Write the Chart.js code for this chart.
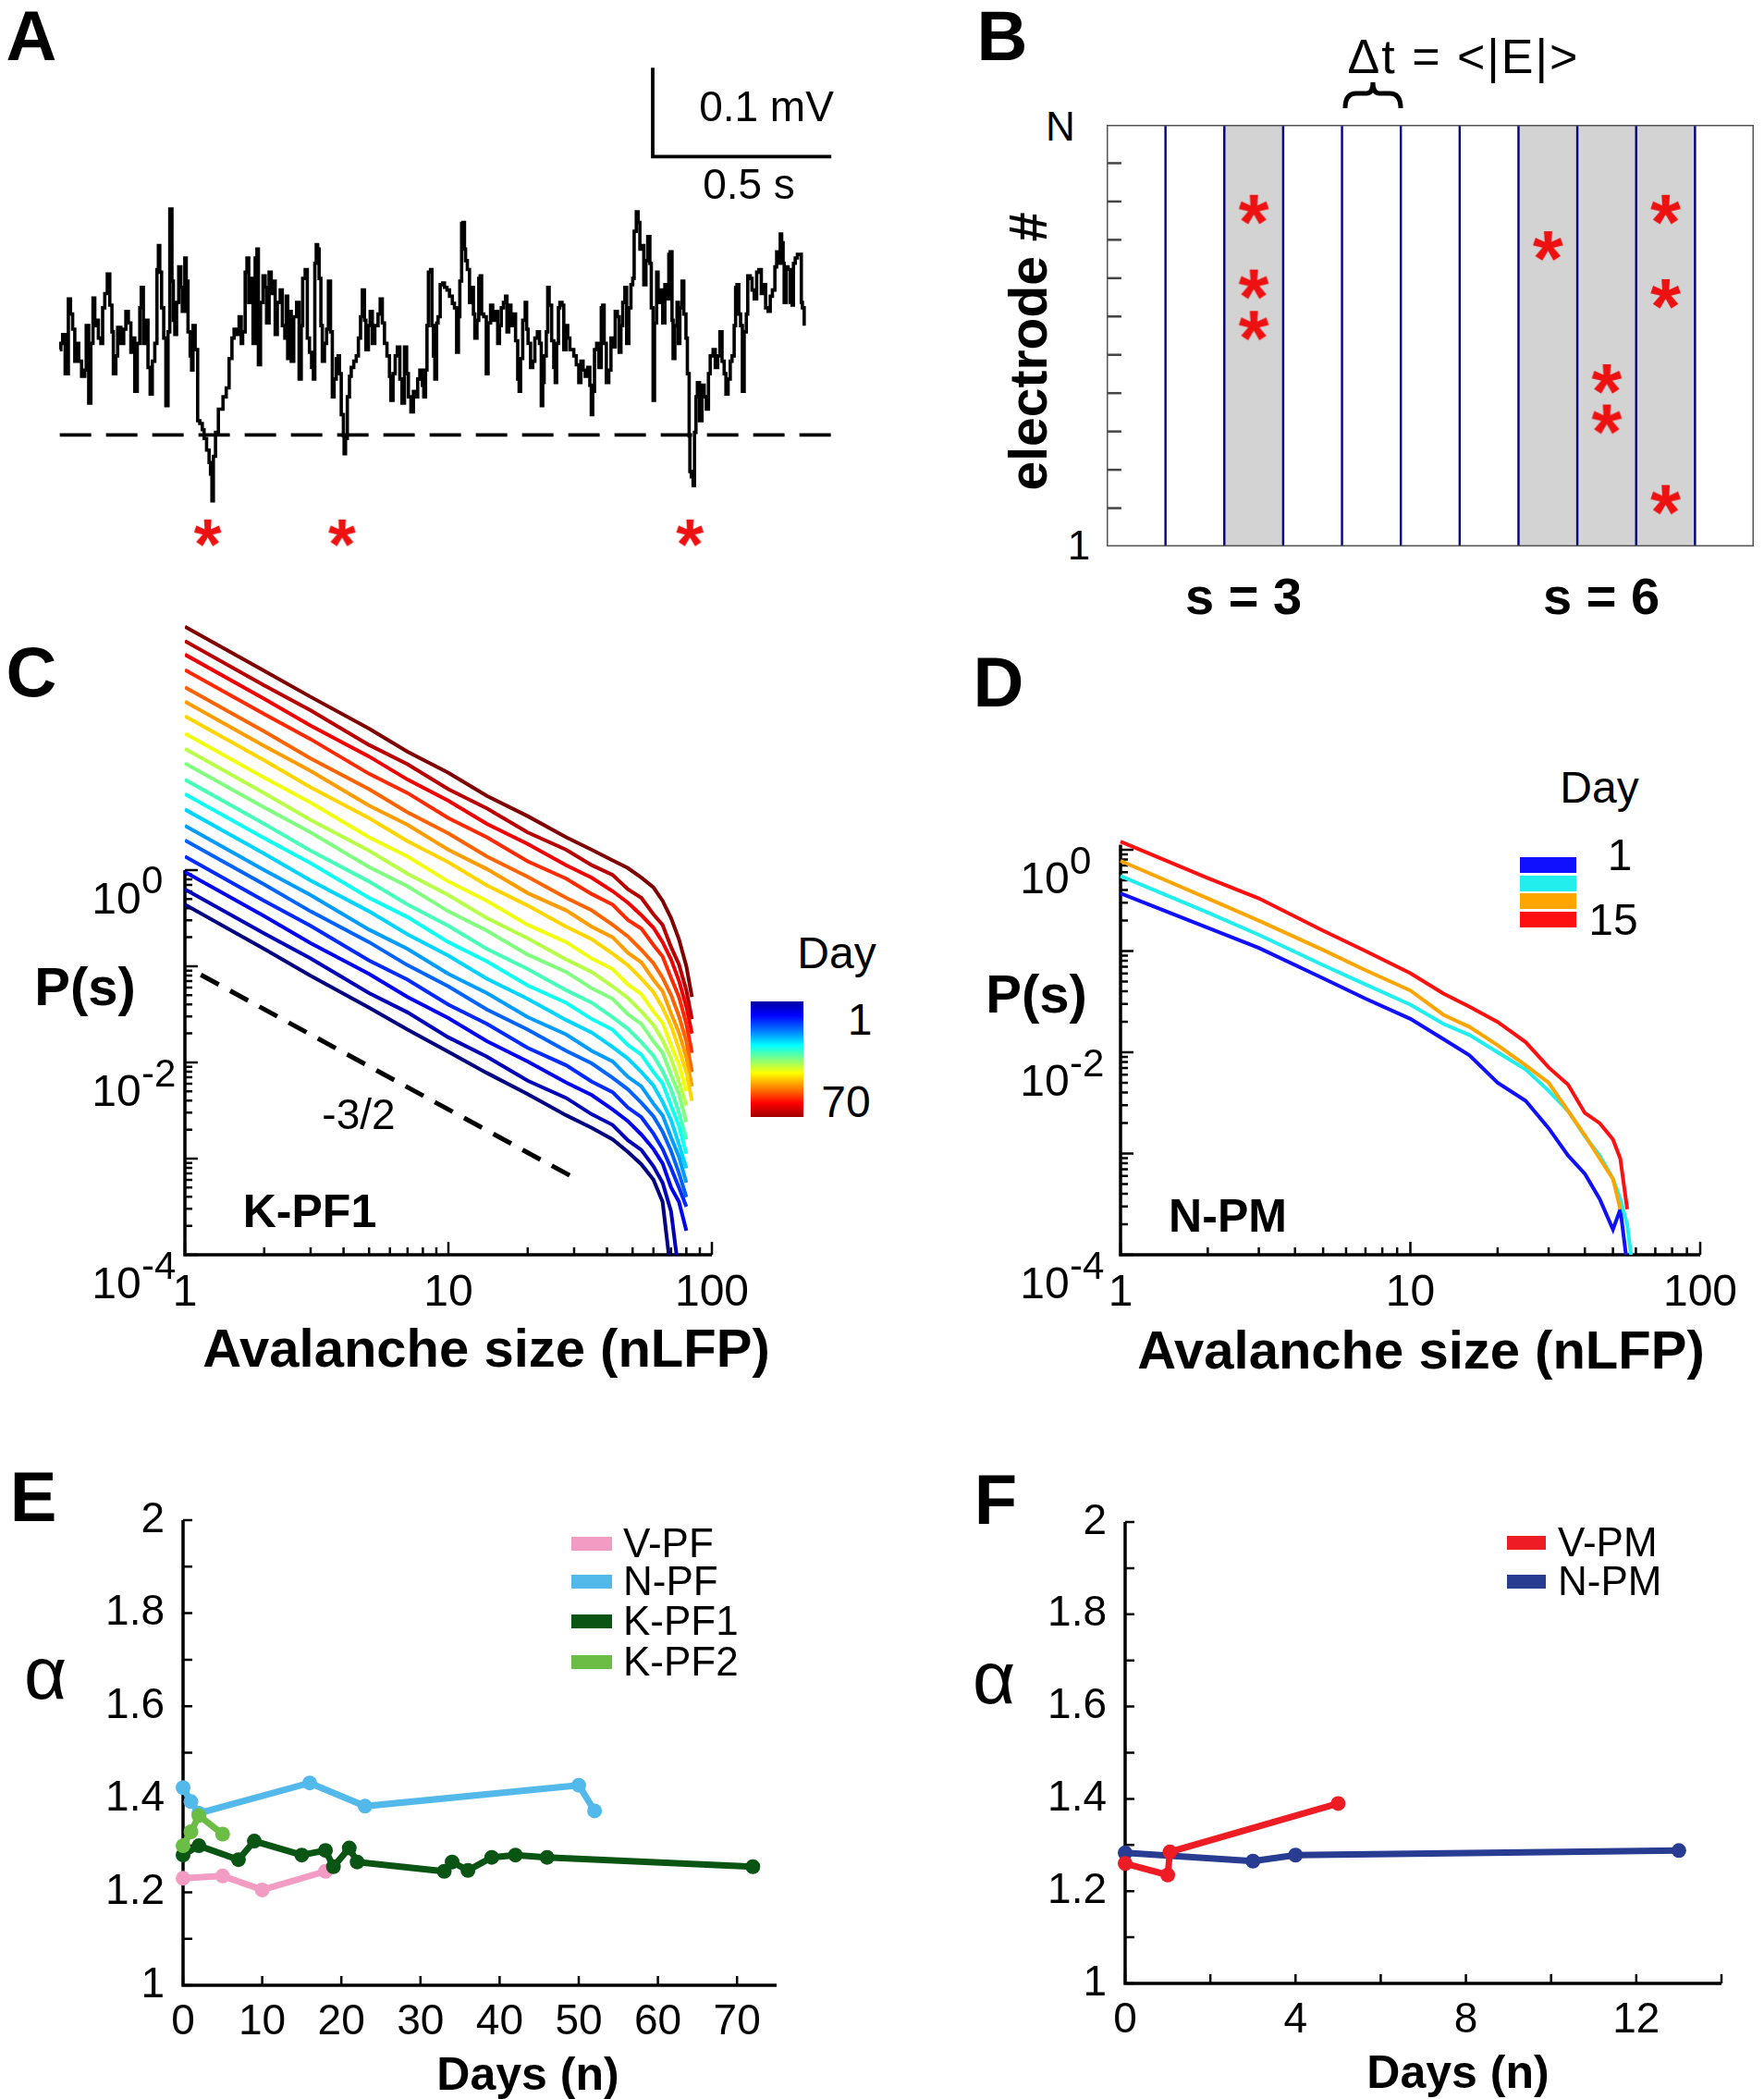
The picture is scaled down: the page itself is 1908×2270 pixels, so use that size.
<!DOCTYPE html>
<html>
<head>
<meta charset="utf-8">
<title>Neuronal avalanches across days</title>
<script src="https://cdn.jsdelivr.net/npm/chart.js@4.4.1/dist/chart.umd.min.js"></script>
<style>
  html, body { margin: 0; padding: 0; background: #fff; }
  #page { position: relative; width: 1908px; height: 2270px; overflow: hidden; font-family: "Liberation Sans", Arial, Helvetica, sans-serif; color: #000; }
  canvas { position: absolute; }
  .t { position: absolute; line-height: 1; white-space: nowrap; transform: translate(-50%, -50%); }
  .tl { position: absolute; line-height: 1; white-space: nowrap; transform: translate(0, -50%); }
  .b { font-weight: bold; }
  .patch { position: absolute; }
</style>
</head>
<body>
<div id="page">
  <canvas id="chartA" width="900" height="580" style="left:40px;top:40px"></canvas>
  <canvas id="chartB" width="722" height="478" style="left:1186px;top:124px"></canvas>
  <canvas id="chartC" width="720" height="780" style="left:90px;top:640px"></canvas>
  <canvas id="chartD" width="780" height="540" style="left:1100px;top:880px"></canvas>
  <canvas id="chartE" width="780" height="610" style="left:100px;top:1610px"></canvas>
  <canvas id="chartF" width="790" height="610" style="left:1110px;top:1610px"></canvas>

  <!-- panel letters -->
  <div class="t b" style="left:34px;top:39px;font-size:76px">A</div>
  <div class="t b" style="left:1084px;top:39px;font-size:76px">B</div>
  <div class="t b" style="left:34px;top:727px;font-size:76px">C</div>
  <div class="t b" style="left:1080px;top:738px;font-size:76px">D</div>
  <div class="t b" style="left:36px;top:1619px;font-size:76px">E</div>
  <div class="t b" style="left:1077px;top:1622px;font-size:76px">F</div>

  <!-- A -->
  <div class="t" style="left:829px;top:115px;font-size:46px">0.1 mV</div>
  <div class="t" style="left:810px;top:199px;font-size:46px">0.5 s</div>

  <!-- B -->
  <div class="t" style="left:1583px;top:61px;font-size:52px;letter-spacing:2px">&Delta;t = &lt;|E|&gt;</div>
  <svg style="position:absolute;left:1452px;top:86px" width="66" height="34" viewBox="0 0 66 34">
    <path d="M3 31 Q3 15 15 15 L26 15 Q33 15 33 3 Q33 15 40 15 L51 15 Q63 15 63 31" fill="none" stroke="#000" stroke-width="5"/>
  </svg>
  <div class="t" style="left:1147px;top:137px;font-size:44px">N</div>
  <div class="t" style="left:1167px;top:590px;font-size:44px">1</div>
  <div class="t b" style="left:1112px;top:380px;font-size:57px;transform:translate(-50%,-50%) rotate(-90deg)">electrode #</div>
  <div class="t b" style="left:1345px;top:645px;font-size:56px">s = 3</div>
  <div class="t b" style="left:1732px;top:645px;font-size:56px">s = 6</div>

  <!-- C -->
  <div class="t b" style="left:92px;top:1067px;font-size:58px">P(s)</div>
  <div class="t b" style="left:526px;top:1458px;font-size:58px">Avalanche size (nLFP)</div>
  <div class="t b" style="left:335px;top:1310px;font-size:50px">K-PF1</div>
  <div class="t" style="left:388px;top:1205px;font-size:46px">-3/2</div>
  <div class="patch" style="left:812px;top:1083px;width:57px;height:125px;background:linear-gradient(to bottom,#0000a0 0%,#0000ff 12%,#0080ff 26%,#00ffff 38%,#80ff80 50%,#ffff00 62%,#ff8000 75%,#ff0000 88%,#a00000 100%)"></div>
  <div class="t" style="left:905px;top:1031px;font-size:48px">Day</div>
  <div class="t" style="left:930px;top:1103px;font-size:48px">1</div>
  <div class="t" style="left:915px;top:1192px;font-size:48px">70</div>

  <!-- D -->
  <div class="t b" style="left:1121px;top:1075px;font-size:58px">P(s)</div>
  <div class="t b" style="left:1537px;top:1460px;font-size:58px">Avalanche size (nLFP)</div>
  <div class="t b" style="left:1328px;top:1315px;font-size:50px">N-PM</div>
  <div class="t" style="left:1730px;top:852px;font-size:48px">Day</div>
  <div class="patch" style="left:1644px;top:927px;width:61px;height:17px;background:#1010ff"></div>
  <div class="patch" style="left:1644px;top:947px;width:61px;height:17px;background:#22eeee"></div>
  <div class="patch" style="left:1644px;top:966px;width:61px;height:17px;background:#ffa500"></div>
  <div class="patch" style="left:1644px;top:986px;width:61px;height:17px;background:#ff1010"></div>
  <div class="t" style="left:1752px;top:925px;font-size:48px">1</div>
  <div class="t" style="left:1745px;top:995px;font-size:48px">15</div>

  <!-- E -->
  <div class="t" style="left:49px;top:1810px;font-size:80px">&alpha;</div>
  <div class="t b" style="left:571px;top:2243px;font-size:50px">Days (n)</div>
  <div class="patch" style="left:618px;top:1662px;width:44px;height:15px;background:#f29cc3"></div>
  <div class="patch" style="left:618px;top:1703px;width:44px;height:15px;background:#52b9ea"></div>
  <div class="patch" style="left:618px;top:1746px;width:44px;height:15px;background:#0a5514"></div>
  <div class="patch" style="left:618px;top:1790px;width:44px;height:15px;background:#6bbd45"></div>
  <div class="tl" style="left:674px;top:1669px;font-size:44px">V-PF</div>
  <div class="tl" style="left:674px;top:1710px;font-size:44px">N-PF</div>
  <div class="tl" style="left:674px;top:1753px;font-size:44px">K-PF1</div>
  <div class="tl" style="left:674px;top:1797px;font-size:44px">K-PF2</div>

  <!-- F -->
  <div class="t" style="left:1075px;top:1815px;font-size:80px">&alpha;</div>
  <div class="t b" style="left:1577px;top:2241px;font-size:50px">Days (n)</div>
  <div class="patch" style="left:1630px;top:1661px;width:42px;height:15px;background:#ee1c24"></div>
  <div class="patch" style="left:1630px;top:1703px;width:42px;height:15px;background:#283c91"></div>
  <div class="tl" style="left:1685px;top:1668px;font-size:44px">V-PM</div>
  <div class="tl" style="left:1685px;top:1710px;font-size:44px">N-PM</div>
</div>

<script>
// ---------- A: LFP trace (time in ms, voltage in microvolts) ----------
const TRACE_MS = [
  0,3,8,15,24,30,36,42,47,53,61,70,74,81,87,93,98,104,108,115,120,126,133,140,146,150,157,162,171,179,
  185,192,199,205,210,217,224,228,234,238,247,253,259,266,272,276,280,285,291,297,303,308,314,318,322,327,333,339,343,350,
  354,359,365,369,373,379,386,392,399,404,411,418,422,426,430,436,444,457,466,474,482,488,495,502,508,512,519,524,529,535,
  541,547,552,556,562,569,575,579,586,592,596,603,609,617,623,630,634,638,642,648,655,663,670,676,680,687,693,699,705,710,
  714,718,722,
  726,731,735,741,747,752,758,763,768,774,779,783,788,794,796,800,805,811,816,823,830,836,842,847,853,857,864,869,875,882,
  891,897,903,909,916,923,927,933,939,945,952,958,965,971,976,983,990,996,1002,1008,1015,1019,1024,1028,1032,1038,1042,1046,1050,1055,
  1059,1065,1072,1077,1084,1091,1099,1105,1111,1116,1120,1125,1129,1133,1136,1141,1147,1151,1158,1162,1168,1173,1177,1181,1187,1194,1199,1206,1212,1219,
  1226,1231,1236,1242,1248,1252,1257,1263,1269,1276,1282,1286,1290,1296,1303,1307,1311,1318,1324,1330,1337,1343,1348,1352,1356,1362,1366,1370,1377,1383,
  1387,1391,1396,1400,1406,1411,1417,1422,1428,
  1433,1439,1446,1453,1459,1465,1471,1478,1484,1488,1492,1497,1503,1509,1516,1520,1524,1530,1537,1543,1549,1555,1561,1566,1571,1576,1582,1587,1593,1599,
  1604,1608,1614,1619,1624,1630,1635,1641,1646,1652,1656,1661,1665,1671,1675,1682,1688,1694,1700,1705,1709,1714,1717,1722,1728,1732,1736,1742,1747,1753,
  1757,1762,1764,1768,1773,1777,1781,1785,1791,1798,1804,1810,1816,1821,1829,1835,1842,1848,1854,1860,1865,1871,1877,1882,1888,1892,1896,1901,1906,1911,
  1916,1922,1926,1933,1938,1944,1951,1957,1964,1970,1976,1983,1989,1995,2002,2007,2012,2017,2021,2025,2028,2034,2039,2045,2050,2054,2059,2065,2071,2076,
  2079,2084
];
const TRACE_UV = [
  -22,-15,-5,-49,35,18,1,-35,-15,-35,-52,-45,5,-82,-15,36,5,11,-9,-15,25,41,63,28,-2,-49,-29,3,-15,1,
  21,8,-25,-9,-69,-15,25,48,-15,11,-42,-72,-35,-15,68,95,65,25,-9,-85,-2,136,55,11,-5,31,71,48,21,81,
  55,-2,-29,-45,5,-22,-102,-105,-112,-122,-135,-149,-162,-192,-142,-115,-89,-75,-65,-32,-9,1,-5,15,-15,-2,65,81,31,58,
  -15,81,91,-39,31,61,48,8,65,41,55,-5,31,45,5,-9,38,-32,21,-35,15,31,-55,5,58,68,-9,-25,-42,-55,
  75,96,91,
  58,5,-35,-15,1,55,-2,-75,-55,-32,-29,-49,-95,-119,-139,-122,-75,-52,-42,-35,-29,-9,15,45,11,-22,5,21,-15,5,
  18,35,8,-15,-29,-52,-79,-49,-29,-19,-55,-82,-19,-49,-75,-92,-69,-75,-55,-45,-62,-75,-45,5,65,68,5,-29,-55,8,
  15,51,53,48,45,38,30,25,-25,15,55,120,121,91,78,68,31,48,18,-9,11,58,61,18,15,-49,8,28,11,21,
  -15,5,25,31,38,-2,28,5,18,-12,-55,-69,-32,11,31,1,-15,-42,-35,-9,-2,-15,-85,-59,-29,-2,48,28,-12,-42,
  -59,-15,25,31,28,-22,5,-9,-22,
  -22,-29,-39,-59,-35,-45,-52,-42,-62,-95,-69,-22,-15,-42,25,28,-15,-59,-45,-9,-19,21,15,-25,5,31,48,-15,25,51,
  58,111,133,121,91,95,51,78,105,75,25,-79,8,65,31,45,8,51,35,85,88,11,-32,5,31,-15,25,55,18,-9,
  -49,-119,-159,-165,-175,-115,-75,-59,-102,-62,-75,-89,-49,-29,-22,-42,-29,-2,-35,-49,-72,-55,-35,-29,5,48,51,18,5,-69,
  -2,18,61,58,45,35,65,68,41,51,25,21,38,45,71,88,75,108,98,75,31,71,68,31,28,75,81,85,85,31,
  25,5
];
const THRESHOLD_MS = [0, 2182];
const THRESHOLD_UV = [-118, -118];
const SCALEBAR_MS = [1660, 1660, 2160];
const SCALEBAR_UV = [295, 195, 195];
const EVENT_MS = [414, 790, 1764];
const EVENT_UV = [-228, -228, -228];

// ---------- B: electrode raster ----------
const TIME_BINS = [0, 1, 2, 3, 4, 5, 6, 7, 8, 9, 10, 11];
const ELECTRODE_TICKS = [2, 3, 4, 5, 6, 7, 8, 9, 10, 11];
const ELECTRODE_RANGE = [1, 12];
const ACTIVE_BINS = [2, 7, 8, 9];
const SPIKE_BIN = [2, 2, 2, 7, 8, 8, 9, 9, 9];
const SPIKE_ELECTRODE = [9.8, 7.85, 6.77, 8.85, 5.38, 4.33, 9.8, 7.6, 2.23];

// ---------- C: size distributions, K-PF1, days 1..70 (log10 P) ----------
const C_SIZES = [1, 2, 3, 5, 7, 10, 14, 20, 28, 35, 42, 48, 54, 60, 65, 70, 75, 80, 84];
const C_LOGP = [
  [-0.36,-0.82,-1.10,-1.43,-1.66,-1.89,-2.11,-2.33,-2.55,-2.68,-2.80,-2.93,-3.06,-3.22,-3.45,-4.20,null,null,null],
  [-0.20,-0.66,-0.92,-1.28,-1.48,-1.74,-1.94,-2.19,-2.37,-2.54,-2.65,-2.81,-2.91,-3.08,-3.25,-3.55,-4.20,null,null],
  [-0.02,-0.48,-0.76,-1.08,-1.32,-1.54,-1.78,-1.99,-2.21,-2.34,-2.49,-2.61,-2.75,-2.90,-3.05,-3.30,-3.45,-3.75,null],
  [0.14,-0.32,-0.58,-0.94,-1.14,-1.40,-1.60,-1.85,-2.03,-2.20,-2.31,-2.47,-2.57,-2.74,-2.90,-3.10,-3.30,-3.50,null],
  [0.31,-0.15,-0.43,-0.75,-0.99,-1.21,-1.45,-1.66,-1.88,-2.01,-2.16,-2.28,-2.42,-2.56,-2.72,-2.92,-3.15,-3.40,null],
  [0.46,0.00,-0.26,-0.62,-0.82,-1.08,-1.28,-1.53,-1.71,-1.88,-1.99,-2.15,-2.25,-2.43,-2.55,-2.78,-2.98,-3.25,null],
  [0.63,0.17,-0.11,-0.43,-0.67,-0.89,-1.13,-1.34,-1.56,-1.69,-1.84,-1.96,-2.10,-2.24,-2.41,-2.60,-2.85,-3.10,null],
  [0.79,0.33,0.07,-0.29,-0.49,-0.75,-0.95,-1.20,-1.38,-1.55,-1.66,-1.82,-1.92,-2.10,-2.22,-2.45,-2.66,-2.95,null],
  [0.94,0.48,0.20,-0.12,-0.36,-0.58,-0.82,-1.03,-1.25,-1.38,-1.53,-1.65,-1.79,-1.93,-2.09,-2.28,-2.52,-2.80,null],
  [1.11,0.65,0.39,0.03,-0.17,-0.43,-0.63,-0.88,-1.06,-1.23,-1.34,-1.50,-1.60,-1.78,-1.90,-2.13,-2.33,-2.62,null],
  [1.26,0.80,0.52,0.20,-0.04,-0.26,-0.50,-0.71,-0.93,-1.06,-1.21,-1.33,-1.47,-1.61,-1.77,-1.96,-2.20,-2.45,null],
  [1.42,0.96,0.70,0.34,0.14,-0.12,-0.32,-0.57,-0.75,-0.92,-1.03,-1.19,-1.29,-1.47,-1.59,-1.82,-2.02,-2.30,null],
  [1.60,1.14,0.86,0.54,0.30,0.08,-0.16,-0.37,-0.59,-0.72,-0.87,-0.99,-1.13,-1.27,-1.43,-1.62,-1.86,-2.10,-2.40],
  [1.75,1.29,1.03,0.67,0.47,0.21,0.01,-0.24,-0.42,-0.59,-0.70,-0.86,-0.96,-1.14,-1.26,-1.49,-1.69,-1.95,-2.25],
  [1.90,1.44,1.16,0.84,0.60,0.38,0.14,-0.07,-0.29,-0.42,-0.57,-0.69,-0.83,-0.97,-1.12,-1.30,-1.52,-1.78,-2.10],
  [2.08,1.62,1.36,1.00,0.80,0.54,0.34,0.09,-0.09,-0.25,-0.36,-0.52,-0.61,-0.78,-0.90,-1.12,-1.32,-1.60,-1.90],
  [2.24,1.78,1.50,1.18,0.94,0.72,0.48,0.27,0.05,-0.08,-0.22,-0.34,-0.47,-0.60,-0.75,-0.93,-1.15,-1.42,-1.70],
  [2.38,1.92,1.66,1.30,1.10,0.84,0.64,0.39,0.21,0.05,-0.05,-0.20,-0.29,-0.46,-0.57,-0.80,-0.98,-1.25,-1.55],
  [2.53,2.07,1.80,1.47,1.23,1.01,0.77,0.56,0.34,0.21,0.10,0.02,-0.08,-0.18,-0.32,-0.50,-0.72,-1.00,-1.32]
];
const SLOPE_SIZES = [1.15, 30];
const SLOPE_LOGP = [-1.09, -3.2];

// ---------- D: size distributions, N-PM, days 1..15 (log10 P) ----------
const D_SIZES = [1, 2, 3, 5, 7, 10, 13, 16, 20, 25, 30, 35, 40, 45, 50, 53, 56, 58];
const D_DAY1 = [-0.43,-0.77,-0.97,-1.27,-1.47,-1.67,-1.87,-2.03,-2.30,-2.48,-2.75,-3.02,-3.20,-3.45,-3.75,-3.55,-4.10,null];
const D_DAY5 = [-0.26,-0.62,-0.84,-1.14,-1.33,-1.53,-1.72,-1.83,-2.00,-2.17,-2.38,-2.58,-2.83,-3.02,-3.25,-3.45,-3.70,-4.05];
const D_DAY10 = [-0.11,-0.48,-0.70,-0.99,-1.19,-1.39,-1.63,-1.75,-1.93,-2.13,-2.30,-2.58,-2.82,-3.05,-3.25,-3.55,null,null];
const D_DAY15 = [0.08,-0.28,-0.48,-0.80,-1.00,-1.22,-1.42,-1.55,-1.70,-1.90,-2.15,-2.32,-2.60,-2.70,-2.86,-3.05,-3.55,null];

// ---------- E: exponent alpha vs day ----------
const VPF_DAY = [0, 5, 10, 18];
const VPF_ALPHA = [1.23, 1.235, 1.205, 1.245];
const NPF_DAY = [0, 1, 2, 16, 23, 50, 52];
const NPF_ALPHA = [1.425, 1.395, 1.37, 1.435, 1.385, 1.43, 1.375];
const KPF1_DAY = [0, 2, 7, 9, 15, 18, 19, 21, 22, 33, 34, 36, 39, 42, 46, 72];
const KPF1_ALPHA = [1.28, 1.30, 1.27, 1.31, 1.28, 1.29, 1.255, 1.295, 1.265, 1.245, 1.265, 1.247, 1.275, 1.28, 1.275, 1.255];
const KPF2_DAY = [0, 1, 2, 5];
const KPF2_ALPHA = [1.30, 1.33, 1.365, 1.325];

// ---------- F ----------
const VPM_DAY = [0, 1, 1.05, 5];
const VPM_ALPHA = [1.26, 1.235, 1.285, 1.39];
const NPM_DAY = [0, 3, 4, 13];
const NPM_ALPHA = [1.283, 1.265, 1.278, 1.288];

const ALPHA_LABELS = ["1", "1.2", "1.4", "1.6", "1.8", "2"];
const E_DAY_LABELS = [0, 10, 20, 30, 40, 50, 60, 70];
const F_DAY_LABELS = [0, 4, 8, 12];

const FONT = "'Liberation Sans', Arial, Helvetica, sans-serif";
Chart.defaults.font.family = FONT;

// MATLAB-like axes: inward ticks, axis lines only on left and bottom
const matlabAxes = {
  id: "matlabAxes",
  beforeDatasetsDraw(chart, args, o) {
    if (!o || !o.xRange) return;
    const ctx = chart.ctx;
    const px = (v) => chart.scales.x.getPixelForValue(v);
    const py = (v) => chart.scales.y.getPixelForValue(v);
    const left = px(o.xRange[0]), right = px(o.xRange[1]);
    const bottom = py(o.yRange[0]), top = py(o.yRange[1]);
    ctx.save();
    ctx.strokeStyle = "#000";
    ctx.lineWidth = o.axisWidth;
    ctx.beginPath();
    ctx.moveTo(left, top);
    ctx.lineTo(left, bottom);
    ctx.lineTo(right, bottom);
    ctx.stroke();

    ctx.lineWidth = o.tickWidth;
    ctx.beginPath();
    const tick = (list, len, isX) => (list || []).forEach((v) => {
      if (isX) { ctx.moveTo(px(v), bottom); ctx.lineTo(px(v), bottom - len); }
      else { ctx.moveTo(left, py(v)); ctx.lineTo(left + len, py(v)); }
    });
    tick(o.xMajor, o.majorLen, true);
    tick(o.xMinor, o.minorLen, true);
    tick(o.yMajor, o.majorLen, false);
    tick(o.yMinor, o.minorLen, false);
    ctx.stroke();

    ctx.fillStyle = "#000";
    ctx.textBaseline = "middle";
    ctx.font = o.font;
    ctx.textAlign = "center";
    (o.xLabels || []).forEach(([v, t]) => ctx.fillText(t, px(v), bottom + o.xLabelDy));
    (o.yLabels || []).forEach(([v, t]) => {
      if (o.pow) {
        ctx.font = o.font;
        ctx.textAlign = "center";
        ctx.fillText("10", left - o.baseDx, py(v) + o.baseDy);
        ctx.font = o.supFont;
        ctx.textAlign = "left";
        ctx.fillText(t, left - o.supDx, py(v) + o.supDy);
      } else {
        ctx.textAlign = "right";
        ctx.fillText(t, left - o.yLabelDx, py(v));
      }
    });
    ctx.restore();
  },
};
Chart.register(matlabAxes);

function points(xs, ys) {
  return xs.map((x, i) => ({ x, y: ys[i] })).filter((p) => p.y !== null);
}

function logPoints(xs, logs) {
  return xs.map((x, i) => (logs[i] === null ? null : { x, y: Math.pow(10, logs[i]) })).filter(Boolean);
}

function jet(t) {
  const c = (v) => Math.round(255 * Math.min(1, Math.max(0, v)));
  return `rgb(${c(1.5 - Math.abs(4 * t - 3))},${c(1.5 - Math.abs(4 * t - 2))},${c(1.5 - Math.abs(4 * t - 1))})`;
}

function asterisk(width, color) {
  const c = document.createElement("canvas");
  c.width = Math.ceil(width * 1.3);
  c.height = Math.ceil(width * 1.3);
  const g = c.getContext("2d");
  g.font = `bold 100px ${FONT}`;
  const m0 = g.measureText("*");
  const size = 100 * width / (m0.actualBoundingBoxLeft + m0.actualBoundingBoxRight);
  g.font = `bold ${size}px ${FONT}`;
  const m = g.measureText("*");
  g.fillStyle = color;
  g.textBaseline = "alphabetic";
  g.fillText("*",
    c.width / 2 - (m.actualBoundingBoxRight - m.actualBoundingBoxLeft) / 2,
    c.height / 2 + (m.actualBoundingBoxAscent - m.actualBoundingBoxDescent) / 2);
  return c;
}

function logTicks(lo, hi) {
  const major = [], minor = [];
  for (let e = lo; e <= hi; e++) {
    major.push(Math.pow(10, e));
    if (e < hi) for (let m = 2; m <= 9; m++) minor.push(m * Math.pow(10, e));
  }
  return { major, minor };
}

function steps(lo, hi, step) {
  const out = [];
  for (let v = lo; v <= hi + 1e-9; v += step) out.push(+v.toFixed(6));
  return out;
}

function baseOptions(x, y, padding, axes) {
  return {
    responsive: false,
    animation: false,
    events: [],
    layout: { padding },
    scales: {
      x: { ...x, display: false, bounds: "data" },
      y: { ...y, display: false, bounds: "data" },
    },
    plugins: { legend: { display: false }, tooltip: { enabled: false }, matlabAxes: axes || false },
    elements: { line: { tension: 0 } },
  };
}

// ---------- A ----------
new Chart(document.getElementById("chartA"), {
  type: "line",
  data: {
    datasets: [
      { data: points(EVENT_MS, EVENT_UV), showLine: false, pointStyle: asterisk(30, "#ee1111"), pointRadius: 10, order: 0 },
      { data: points(TRACE_MS, TRACE_UV), borderColor: "#000", borderWidth: 3.6, stepped: true, pointRadius: 0, order: 1 },
      { data: points(THRESHOLD_MS, THRESHOLD_UV), borderColor: "#000", borderWidth: 3.8, borderDash: [34, 16], pointRadius: 0, order: 2 },
      { data: points(SCALEBAR_MS, SCALEBAR_UV), borderColor: "#000", borderWidth: 3.8, pointRadius: 0, order: 2 },
    ],
  },
  options: baseOptions({ type: "linear", min: -35.35, max: 2237.15 }, { type: "linear", min: -262, max: 318 }, 0, false),
});

// ---------- B ----------
const bSets = [];
const starB = asterisk(33, "#ee1111");
bSets.push({
  data: SPIKE_BIN.map((b, i) => ({ x: b + 0.5, y: SPIKE_ELECTRODE[i] })),
  showLine: false, pointStyle: starB, pointRadius: 10, order: 0,
});
ACTIVE_BINS.forEach((b) => bSets.push({
  data: [{ x: b, y: ELECTRODE_RANGE[1] }, { x: b + 1, y: ELECTRODE_RANGE[1] }],
  fill: { value: ELECTRODE_RANGE[0] }, backgroundColor: "#d3d3d3", borderWidth: 0, pointRadius: 0, order: 9,
}));
TIME_BINS.slice(1, -1).forEach((b) => bSets.push({
  data: [{ x: b, y: ELECTRODE_RANGE[0] }, { x: b, y: ELECTRODE_RANGE[1] }],
  borderColor: "#000080", borderWidth: 2.4, pointRadius: 0, order: 5,
}));
ELECTRODE_TICKS.forEach((e) => bSets.push({
  data: [{ x: TIME_BINS[0], y: e }, { x: TIME_BINS[0] + 0.25, y: e }],
  borderColor: "#444", borderWidth: 2.5, pointRadius: 0, order: 4,
}));
const lastBin = TIME_BINS[TIME_BINS.length - 1];
bSets.push({
  data: [
    { x: 0, y: ELECTRODE_RANGE[0] }, { x: lastBin, y: ELECTRODE_RANGE[0] },
    { x: lastBin, y: ELECTRODE_RANGE[1] }, { x: 0, y: ELECTRODE_RANGE[1] }, { x: 0, y: ELECTRODE_RANGE[0] },
  ],
  borderColor: "#555", borderWidth: 3, pointRadius: 0, order: 3,
});
new Chart(document.getElementById("chartB"), {
  type: "line",
  data: { datasets: bSets },
  options: baseOptions(
    { type: "linear", min: 0, max: lastBin },
    { type: "linear", min: ELECTRODE_RANGE[0], max: ELECTRODE_RANGE[1] },
    { left: 10, right: 8, top: 10, bottom: 10 }, false),
});

// ---------- C ----------
const cTicksX = logTicks(0, 2);
const cTicksY = logTicks(-4, 0);
const cSets = C_LOGP.map((row, k) => ({
  data: logPoints(C_SIZES, row),
  borderColor: jet(k / (C_LOGP.length - 1)), borderWidth: 4, pointRadius: 0, order: 2,
}));
cSets.push({
  data: logPoints(SLOPE_SIZES, SLOPE_LOGP),
  borderColor: "#000", borderWidth: 5, borderDash: [22, 14], pointRadius: 0, order: 1,
});
new Chart(document.getElementById("chartC"), {
  type: "line",
  data: { datasets: cSets },
  options: baseOptions(
    { type: "logarithmic", min: 1, max: 100 },
    { type: "logarithmic", min: 1e-4, max: Math.pow(10, 2.7) },
    { left: 110, right: 40, top: 20, bottom: 63 },
    {
      xRange: [1, 100], yRange: [1e-4, 1], axisWidth: 3.5, tickWidth: 2.5, majorLen: 14, minorLen: 8,
      xMajor: cTicksX.major, xMinor: cTicksX.minor, yMajor: cTicksY.major, yMinor: cTicksY.minor,
      font: `48px ${FONT}`, supFont: `42px ${FONT}`, xLabelDy: 42,
      xLabels: [[1, "1"], [10, "10"], [100, "100"]],
      pow: true, yLabels: [[1, "0"], [1e-2, "-2"], [1e-4, "-4"]],
      baseDx: 74, baseDy: 34, supDx: 47, supDy: 14,
    }),
});

// ---------- D ----------
const dTicksY = logTicks(-4, 0);
const dClip = { left: 3, top: 20, right: 3, bottom: 0 };
new Chart(document.getElementById("chartD"), {
  type: "line",
  data: {
    datasets: [
      { data: logPoints(D_SIZES, D_DAY15), borderColor: "#ff1010", borderWidth: 4, pointRadius: 0, clip: dClip, order: 1 },
      { data: logPoints(D_SIZES, D_DAY10), borderColor: "#ffa500", borderWidth: 4, pointRadius: 0, clip: dClip, order: 2 },
      { data: logPoints(D_SIZES, D_DAY5), borderColor: "#22eeee", borderWidth: 4, pointRadius: 0, clip: dClip, order: 3 },
      { data: logPoints(D_SIZES, D_DAY1), borderColor: "#1010ff", borderWidth: 4, pointRadius: 0, clip: dClip, order: 4 },
    ],
  },
  options: baseOptions(
    { type: "logarithmic", min: 1, max: 100 },
    { type: "logarithmic", min: 1e-4, max: Math.pow(10, 0.05) },
    { left: 112, right: 41, top: 33.5, bottom: 63 },
    {
      xRange: [1, 100], yRange: [1e-4, Math.pow(10, 0.05)], axisWidth: 3.5, tickWidth: 2.5, majorLen: 14, minorLen: 8,
      xMajor: cTicksX.major, xMinor: cTicksX.minor, yMajor: dTicksY.major, yMinor: dTicksY.minor,
      font: `48px ${FONT}`, supFont: `42px ${FONT}`, xLabelDy: 42,
      xLabels: [[1, "1"], [10, "10"], [100, "100"]],
      pow: true, yLabels: [[1, "0"], [1e-2, "-2"], [1e-4, "-4"]],
      baseDx: 82, baseDy: 34, supDx: 55, supDy: 14,
    }),
});

// ---------- E and F ----------
function alphaSet(xs, ys, color, order) {
  return {
    data: points(xs, ys), borderColor: color, backgroundColor: color, borderWidth: 7,
    pointRadius: 8, pointBorderWidth: 0, pointBackgroundColor: color, clip: false, order,
  };
}
const alphaTicks = steps(1, 2, 0.1);
const alphaLabels = ALPHA_LABELS.map((t) => [Number(t), t]);

new Chart(document.getElementById("chartE"), {
  type: "line",
  data: {
    datasets: [
      alphaSet(KPF2_DAY, KPF2_ALPHA, "#6bbd45", 1),
      alphaSet(KPF1_DAY, KPF1_ALPHA, "#0a5514", 2),
      alphaSet(NPF_DAY, NPF_ALPHA, "#52b9ea", 3),
      alphaSet(VPF_DAY, VPF_ALPHA, "#f29cc3", 4),
    ],
  },
  options: baseOptions(
    { type: "linear", min: 0, max: 75 },
    { type: "linear", min: 1, max: 2 },
    { left: 98, right: 40, top: 34, bottom: 73 },
    {
      xRange: [0, 75], yRange: [1, 2], axisWidth: 3.5, tickWidth: 2.5, majorLen: 10, minorLen: 10,
      xMajor: E_DAY_LABELS, yMajor: alphaTicks,
      font: `46px ${FONT}`, xLabelDy: 40, yLabelDx: 20,
      xLabels: E_DAY_LABELS.map((d) => [d, String(d)]),
      yLabels: alphaLabels,
    }),
});

new Chart(document.getElementById("chartF"), {
  type: "line",
  data: {
    datasets: [
      alphaSet(VPM_DAY, VPM_ALPHA, "#ee1c24", 1),
      alphaSet(NPM_DAY, NPM_ALPHA, "#283c91", 2),
    ],
  },
  options: baseOptions(
    { type: "linear", min: 0, max: 14 },
    { type: "linear", min: 1, max: 2 },
    { left: 107, right: 38, top: 36, bottom: 75 },
    {
      xRange: [0, 14], yRange: [1, 2], axisWidth: 3.5, tickWidth: 2.5, majorLen: 10, minorLen: 10,
      xMajor: steps(0, 14, 2), yMajor: alphaTicks,
      font: `46px ${FONT}`, xLabelDy: 40, yLabelDx: 20,
      xLabels: F_DAY_LABELS.map((d) => [d, String(d)]),
      yLabels: alphaLabels,
    }),
});
</script>
</body>
</html>
